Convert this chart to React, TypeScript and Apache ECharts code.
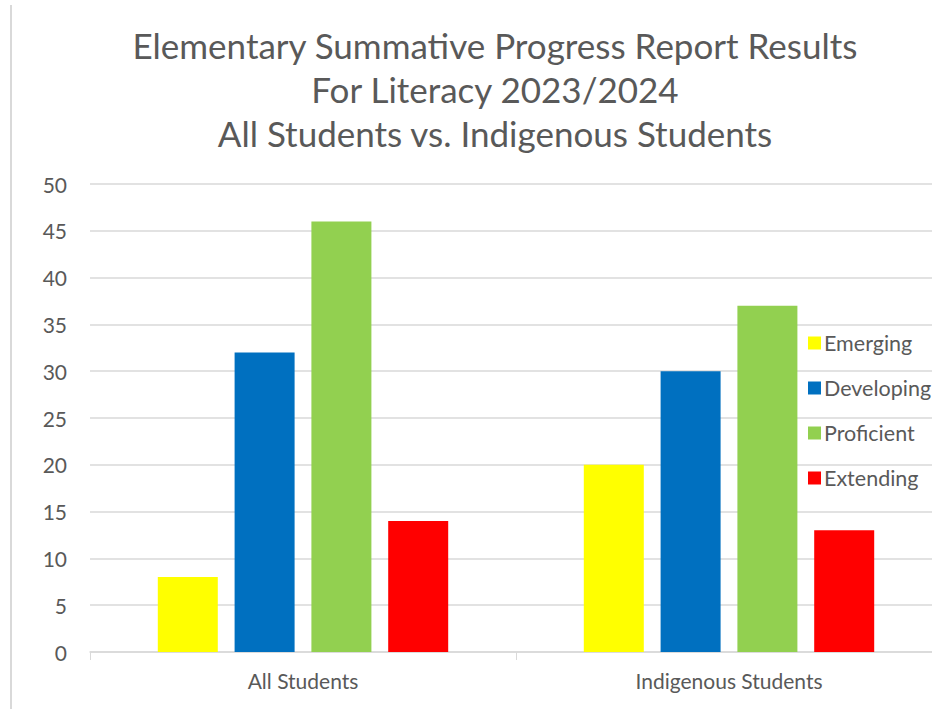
import React, { useEffect, useRef } from "react";
import * as echarts from "echarts";

const categories = ["All Students", "Indigenous Students"];
const seriesNames = ["Emerging", "Developing", "Proficient", "Extending"];
const emerging = [8, 20];
const developing = [32, 30];
const proficient = [46, 37];
const extending = [14, 13];
const colors = ["#FFFF00", "#0070C0", "#92D050", "#FF0000"];
const titleLines = [
  "Elementary Summative Progress Report Results",
  "For Literacy 2023/2024",
  "All Students vs. Indigenous Students",
];

export default function App() {
  const ref = useRef<HTMLDivElement>(null);
  useEffect(() => {
    if (!ref.current) return;
    const chart = echarts.init(ref.current, undefined, { renderer: "svg" });
    const values = [emerging, developing, proficient, extending];
    const font = "Lato, 'Open Sans', sans-serif";
    chart.setOption({
      animation: false,
      backgroundColor: "#ffffff",
      textStyle: { fontFamily: font },
      title: {
        text: titleLines.join("\n"),
        left: 490,
        top: 18,
        textAlign: "center",
        textStyle: {
          fontFamily: font,
          fontSize: 35,
          fontWeight: "normal",
          color: "#595959",
          lineHeight: 44,
        },
      },
      legend: {
        orient: "vertical",
        left: 803,
        top: 327,
        itemWidth: 13,
        itemHeight: 13,
        itemGap: 23,
        icon: "rect",
        data: seriesNames,
        textStyle: { fontFamily: font, fontSize: 21.5, color: "#595959", padding: [0, 0, 0, -2] },
      },
      grid: { left: 90, top: 184, width: 852, bottom: 57, containLabel: false },
      xAxis: {
        type: "category",
        data: categories,
        axisLine: { lineStyle: { color: "#d9d9d9", width: 1.5 } },
        axisTick: { show: true, length: 8, lineStyle: { color: "#d9d9d9" } },
        axisLabel: { fontFamily: font, fontSize: 21, color: "#595959", margin: 18 },
      },
      yAxis: {
        type: "value",
        min: 0,
        max: 50,
        interval: 5,
        axisLine: { show: false },
        axisTick: { show: false },
        axisLabel: { fontFamily: font, fontSize: 21, color: "#595959", margin: 23 },
        splitLine: { lineStyle: { color: "#d9d9d9", width: 1.5 } },
      },
      graphic: [
        {
          type: "line",
          shape: { x1: 11, y1: 5, x2: 11, y2: 709 },
          style: { stroke: "#d9d9d9", lineWidth: 2 },
        },
      ],
      series: seriesNames.map((name, i) => ({
        name,
        type: "bar",
        data: values[i],
        barWidth: 60,
        barGap: "28%",
        itemStyle: { color: colors[i] },
      })),
    });
    return () => chart.dispose();
  }, []);
  return (
    <div
      style={{ position: "absolute", left: 0, top: 0, width: 932, height: 709, overflow: "hidden" }}
    >
      <div ref={ref} style={{ width: 960, height: 709 }} />
    </div>
  );
}
